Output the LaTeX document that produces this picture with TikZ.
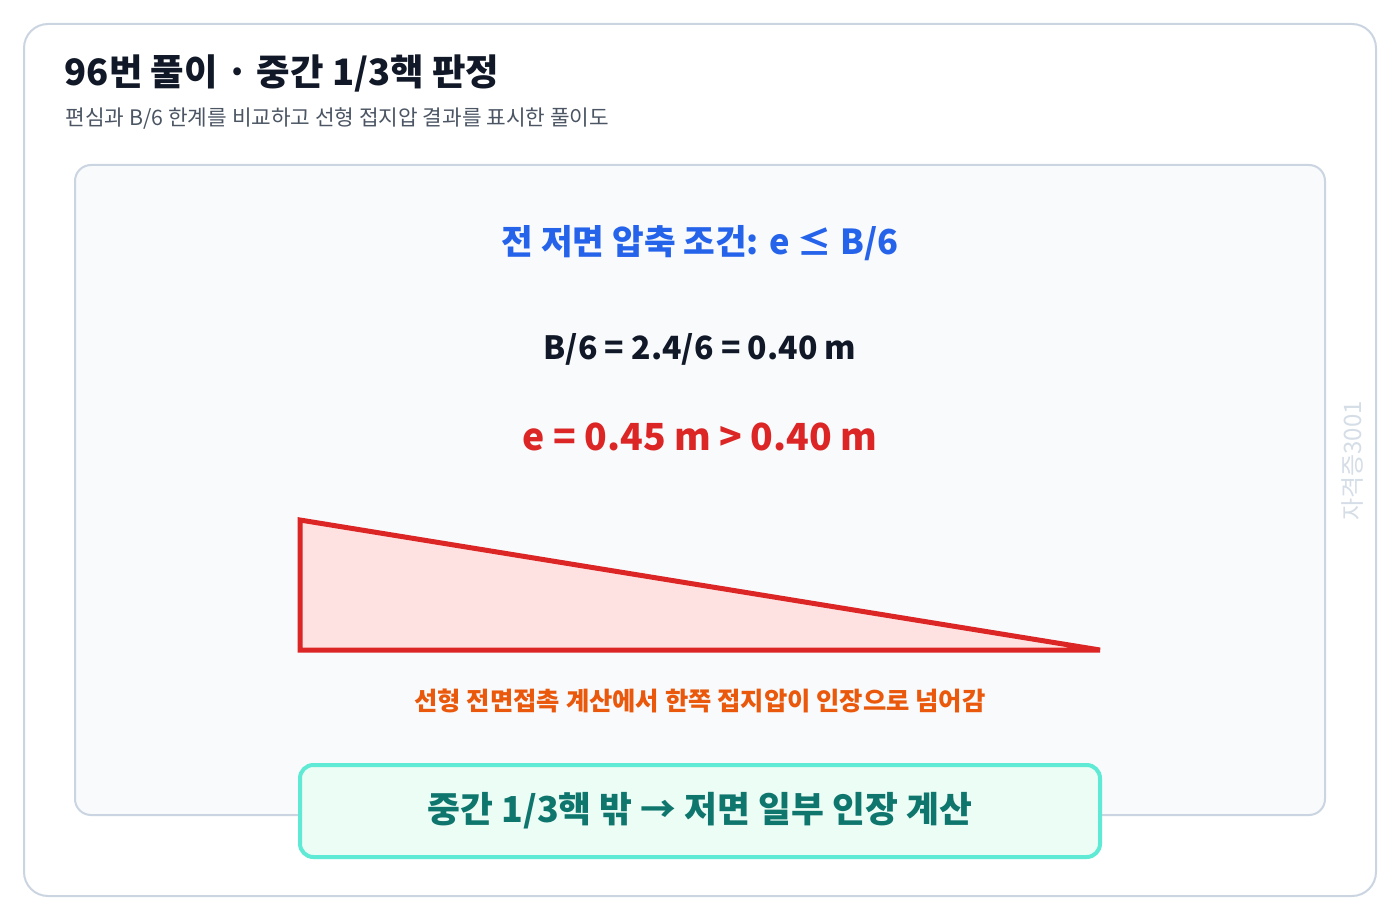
\documentclass[tikz,border=0pt]{standalone}
\usepackage{fontspec}
\setmainfont{Noto Sans CJK KR}
\usepackage{xcolor}
\usepackage{tikz}

\definecolor{frame}{HTML}{CBD5E1}
\definecolor{panel}{HTML}{F8FAFC}
\definecolor{ink}{HTML}{111827}
\definecolor{grayink}{HTML}{4B5563}
\definecolor{blueink}{HTML}{2563EB}
\definecolor{redink}{HTML}{DC2626}
\definecolor{pinkfill}{HTML}{FEE2E2}
\definecolor{orangeink}{HTML}{EA580C}
\definecolor{mintfill}{HTML}{ECFDF5}
\definecolor{mintline}{HTML}{5EEAD4}
\definecolor{tealink}{HTML}{0F766E}

\tikzset{
  headline/.style={font=\fontsize{27.3}{31}\selectfont\bfseries, text=ink, anchor=west},
  subline/.style={font=\fontsize{16}{19}\selectfont, text=grayink, anchor=west},
  bigline/.style={font=\fontsize{25.8}{30}\selectfont\bfseries},
  verdictbox/.style={draw=mintline, fill=mintfill, line width=3pt, rounded corners=10pt,
    minimum width=600pt, minimum height=69pt, text=tealink,
    font=\fontsize{26.8}{31}\selectfont\bfseries}
}

\begin{document}
\begin{tikzpicture}[x=0.75pt, y=-0.75pt]

\useasboundingbox (0,0) rectangle (1400,920);

% outer card and inner panel
\draw [draw=frame, fill=white, line width=1.5pt, rounded corners=18pt] (24,24) rectangle (1376,896);
\draw [draw=frame, fill=panel, line width=1.5pt, rounded corners=12pt] (75,165) rectangle (1325,815);

\node [headline] (title) at (60,73) {96번 풀이 · 중간 1/3핵 판정};
\node [subline] (subtitle) at (61,119) {편심과 B/6 한계를 비교하고 선형 접지압 결과를 표시한 풀이도};

\node [bigline, text=blueink] (cond) at (700,243) {전 저면 압축 조건: e ≤ B/6};
\node [bigline, text=ink, font=\fontsize{24}{28}\selectfont\bfseries] (limit) at (700,349) {B/6 = 2.4/6 = 0.40 m};
\node [bigline, text=redink, font=\fontsize{28}{33}\selectfont\bfseries] (ecc) at (700,437) {e = 0.45 m > 0.40 m};

% pressure triangle
\coordinate (heel) at (300,520);
\coordinate (base) at (300,650);
\coordinate (toe) at (1100,650);
\draw [draw=redink, fill=pinkfill, line width=3.75pt] (heel) -- (toe) -- (base) -- cycle;

\node [text=orangeink, font=\fontsize{19}{23}\selectfont\bfseries] (note) at (700,701) {선형 전면접촉 계산에서 한쪽 접지압이 인장으로 넘어감};

\node [verdictbox] (verdict) at (700,811) {\raisebox{-1pt}{중간 1/3핵 밖 → 저면 일부 인장 계산}};

\node [rotate=90, text=frame!80!white, font=\fontsize{18}{21}\selectfont] (mark) at (1352,461) {자격증3001};

\end{tikzpicture}
\end{document}
